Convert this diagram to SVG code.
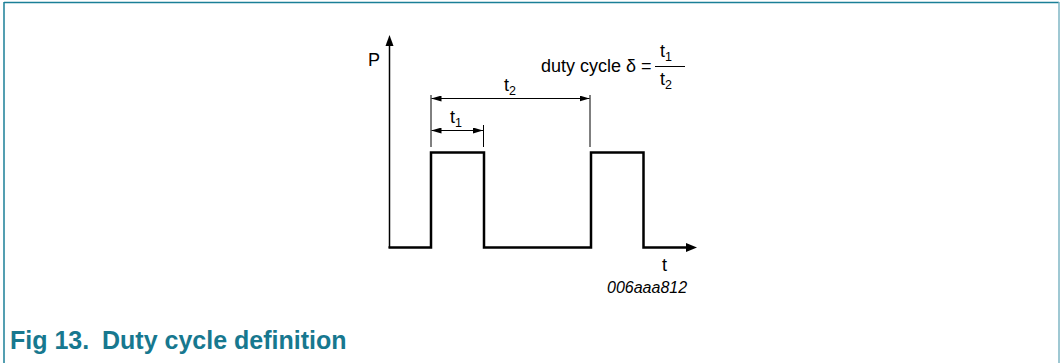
<svg xmlns="http://www.w3.org/2000/svg" width="1061" height="363" viewBox="0 0 1061 363">
<defs>
<style>
.lbl{font-family:"Liberation Sans",Arial,sans-serif;font-size:18px;fill:#000}
.sub{font-size:12.5px}
.code{font-family:"Liberation Sans",Arial,sans-serif;font-size:16px;font-style:italic;fill:#000}
.cap{font-family:"Liberation Sans",Arial,sans-serif;font-size:25px;font-weight:bold;fill:#17788f}
.thin{stroke:#000;stroke-width:1;fill:none}
.axis{stroke:#000;stroke-width:1.5;fill:none}
.pulse{stroke:#000;stroke-width:2.5;fill:none}
</style>
<marker id="ah" viewBox="0 0 10 6" refX="10" refY="3" markerWidth="10" markerHeight="6" markerUnits="userSpaceOnUse" orient="auto-start-reverse">
<path d="M0,0 L10,3 L0,6 Z" fill="#000"/>
</marker>
</defs>
<rect width="1061" height="363" fill="#fff"/>
<g id="frame">
<line x1="4" y1="2.5" x2="1059" y2="2.5" stroke="#1b7f97" stroke-width="1.5"/>
<line x1="4" y1="2" x2="4" y2="363" stroke="#1b7f97" stroke-width="1.5"/>
<line x1="1059" y1="2" x2="1059" y2="363" stroke="#7fb6c5" stroke-width="1.5"/>
</g>
<g id="connectors">
<line class="axis" x1="389.5" y1="248" x2="389.5" y2="44"/>
<polygon points="389.5,35 385.5,46 393.5,46" fill="#000"/>
<path class="pulse" d="M388.5,247.5 H431 V152.5 H484 V247.5 H591 V152.5 H643.5 V247.5 H688"/>
<polygon points="697,247.5 686,243 686,252" fill="#000"/>
<line class="thin" x1="431" y1="95" x2="431" y2="147"/>
<line class="thin" x1="590" y1="95" x2="590" y2="147"/>
<line class="thin" x1="483.5" y1="125" x2="483.5" y2="147"/>
<line class="thin" x1="431.5" y1="98.5" x2="589.5" y2="98.5" marker-start="url(#ah)" marker-end="url(#ah)"/>
<line class="thin" x1="431.5" y1="130.5" x2="483" y2="130.5" marker-start="url(#ah)" marker-end="url(#ah)"/>
<line class="thin" x1="655" y1="66.5" x2="685" y2="66.5"/>
</g>
<g id="labels">
<text class="lbl" x="368" y="66">P</text>
<text class="lbl" x="541" y="72">duty cycle δ =</text>
<text class="lbl" x="660" y="57">t<tspan class="sub" dy="4">1</tspan></text>
<text class="lbl" x="660" y="85">t<tspan class="sub" dy="4">2</tspan></text>
<text class="lbl" x="504" y="91">t<tspan class="sub" dy="4">2</tspan></text>
<text class="lbl" x="450" y="123">t<tspan class="sub" dy="4">1</tspan></text>
<text class="lbl" x="662" y="271">t</text>
<text class="code" x="607" y="293">006aaa812</text>
</g>
<g id="caption">
<text class="cap" y="349"><tspan x="10">Fig 13.</tspan><tspan x="102">Duty cycle definition</tspan></text>
</g>
</svg>
